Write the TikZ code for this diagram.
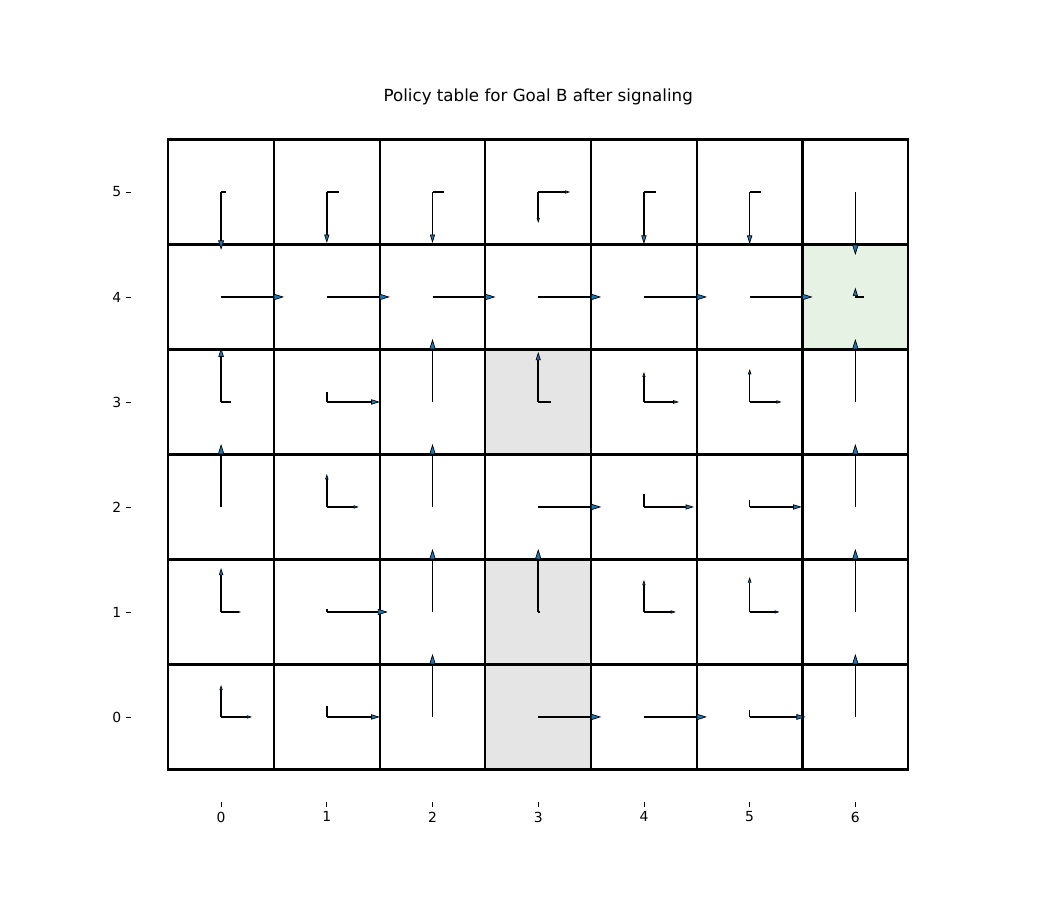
\documentclass[tikz,border=0pt]{standalone}
\usepackage{fontspec}
\setmainfont{DejaVu Sans}
\usetikzlibrary{arrows.meta}
\definecolor{tabblue}{RGB}{31,119,180}
\definecolor{cellgray}{RGB}{229,229,229}
\definecolor{goalgreen}{RGB}{229,242,228}
\tikzset{
  cell/.style={draw=black, line width=1.25pt},
  shaft/.style={draw=black, line width=0.9pt},
  tickmark/.style={draw=black, line width=0.5pt},
  ticklabel/.style={font=\fontsize{7.9pt}{9pt}\selectfont, inner sep=0pt},
  titlelabel/.style={font=\fontsize{9.5pt}{11pt}\selectfont, inner sep=0pt}
}
\begin{document}
\begin{tikzpicture}[x=2.1143cm,y=2.1cm]
\useasboundingbox (-2.0916,-1.7429) rectangle (7.8413,6.8286);
% title
\node[titlelabel] (title) at (3.0,5.905) {Policy table for Goal B after signaling};
% shaded cells
\fill[cellgray] (2.5,2.5) rectangle (3.5,3.5);
\fill[cellgray] (2.5,0.5) rectangle (3.5,1.5);
\fill[cellgray] (2.5,-0.5) rectangle (3.5,0.5);
\fill[goalgreen] (5.5,3.5) rectangle (6.5,4.5);
% grid
\foreach \i in {0,...,6}{
  \foreach \j in {0,...,5}{
    \draw[cell] (\i-0.5,\j-0.5) rectangle (\i+0.5,\j+0.5);
  }
}
% ticks and labels
\foreach \j in {0,...,5}{
  \coordinate (yt\j) at (-0.852,\j);
  \draw[tickmark] (yt\j) -- ++(-0.094cm,0cm);
  \node[ticklabel, anchor=east] (yl\j) at ([xshift=-0.19cm]yt\j) {\j};
}
\foreach \i in {0,...,6}{
  \coordinate (xt\i) at (\i,-0.81);
  \draw[tickmark] (xt\i) -- ++(0cm,-0.094cm);
  \node[ticklabel, anchor=north] (xl\i) at ([yshift=-0.19cm]xt\i) {\i};
}
% policy arrows: i/j/u/v in pixels (v positive = up)
\foreach \i/\j/\u/\v in {
  0/5/5/-58, 1/5/12/-51, 2/5/11/-51, 3/5/32/-31, 4/5/12/-52, 5/5/11/-52, 6/5/0/-63,
  0/4/63/0, 1/4/63/0, 2/4/63/0, 3/4/63/0, 4/4/63/0, 5/4/63/0, 6/4/9/0,
  0/3/10/54, 1/3/53/10, 2/3/0/63, 3/3/13/50, 4/3/35/30, 5/3/32/33, 6/3/0/63,
  0/2/0/63, 1/2/32/33, 2/2/0/63, 3/2/63/0, 4/2/50/13, 5/2/52/7, 6/2/0/63,
  0/1/20/44, 1/1/61/3, 2/1/0/63, 3/1/2/63, 4/1/32/32, 5/1/30/35, 6/1/0/63,
  0/0/31/32, 1/0/53/11, 2/0/0/63, 3/0/63/0, 4/0/63/0, 5/0/56/7, 6/0/0/63}{
  \coordinate (c) at (\i,\j);
  \ifnum\u>0
    \ifnum\u>14
      \pgfmathsetmacro\hl{0.0033*\u}
      \pgfmathsetmacro\hw{0.002*\u}
      \draw[shaft,-{Triangle[length=\hl cm,width=\hw cm,fill=tabblue,line width=0.4pt]}] (c) -- ++({0.02cm*\u},0cm);
    \else
      \draw[shaft] (c) -- ++({0.02cm*\u},0cm);
    \fi
  \fi
  \ifnum\v=0\relax\else
    \pgfmathtruncatemacro\L{abs(\v)}
    \ifnum\L>14
      \pgfmathsetmacro\hl{0.0033*\L}
      \pgfmathsetmacro\hw{0.002*\L}
      \draw[shaft,-{Triangle[length=\hl cm,width=\hw cm,fill=tabblue,line width=0.4pt]}] (c) -- ++(0cm,{0.02cm*\v});
    \else
      \draw[shaft] (c) -- ++(0cm,{0.02cm*\v});
    \fi
  \fi
}
% goal cell small up arrow (head only visible)
\coordinate (g) at (6,4);
\draw[shaft,-{Triangle[length=0.17cm,width=0.1cm,fill=tabblue,line width=0.4pt]}] (g) -- ++(0cm,0.19cm);
\end{tikzpicture}
\end{document}
